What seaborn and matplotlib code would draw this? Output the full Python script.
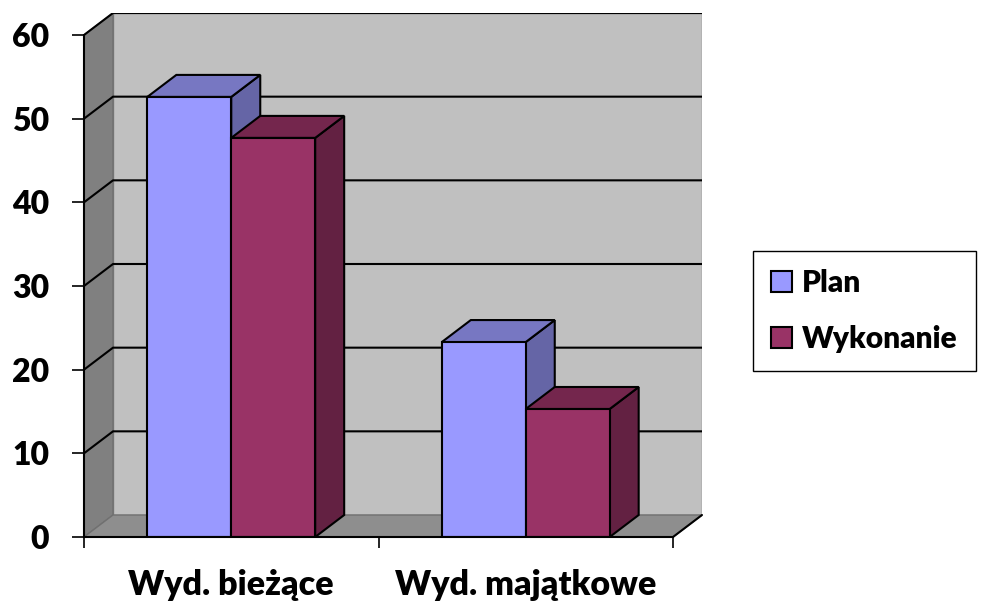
import numpy as np
import pandas as pd
import matplotlib
matplotlib.use('Agg')
import matplotlib.pyplot as plt
from matplotlib.patches import Polygon
import seaborn as sns

# dane
kategorie = ['Wyd. bieżące', 'Wyd. majątkowe']
plan = [52.6, 23.3]
wykonanie = [47.7, 15.3]
serie = ['Plan', 'Wykonanie']
y_ticks = [0, 10, 20, 30, 40, 50, 60]

df = pd.DataFrame({
    'kategoria': kategorie * 2,
    'seria': ['Plan'] * 2 + ['Wykonanie'] * 2,
    'wartosc': plan + wykonanie,
})

sns.set_style('white')
plt.rcParams['font.family'] = ['Lato', 'DejaVu Sans']
plt.rcParams['font.weight'] = 'heavy'
plt.rcParams['text.color'] = 'black'
plt.rcParams['xtick.labelcolor'] = 'black'
plt.rcParams['ytick.labelcolor'] = 'black'

kolory = {'Plan': '#9999FF', 'Wykonanie': '#993366'}
kolory_gora = {'Plan': '#7777C2', 'Wykonanie': '#74264D'}
kolory_bok = {'Plan': '#6565A6', 'Wykonanie': '#632142'}

fig = plt.figure(figsize=(9.84, 6.03), dpi=100)
ax = fig.add_axes([84 / 984, 66 / 603, 618 / 984, 524 / 603])

sns.barplot(data=df, x='kategoria', y='wartosc', hue='seria', palette=kolory,
            saturation=1, width=0.57, gap=0, edgecolor='black', linewidth=1.5, ax=ax,
            zorder=5)

# słupki z kontenerów (po seriach)
slupki = []
for seria, kont in zip(serie, ax.containers):
    for p in kont.patches:
        slupki.append((p, seria))
slupki.sort(key=lambda t: t[0].get_x())

# przesunięcie głębi (3D)
dx = 29 / 294.5
dy = 22 / (502 / 60)
ymax = y_ticks[-1]
x0, x1 = -0.5, 1.5

ax.set_xlim(x0, x1 + dx)
ax.set_ylim(0, ymax + dy)

# ściany i podłoga
ax.add_patch(Polygon([(x0 + dx, dy), (x1 + dx, dy), (x1 + dx, ymax + dy), (x0 + dx, ymax + dy)],
                     closed=True, facecolor='#C0C0C0', edgecolor='#808080', lw=1, zorder=1))
ax.add_patch(Polygon([(x0, 0), (x0, ymax), (x0 + dx, ymax + dy), (x0 + dx, dy)],
                     closed=True, facecolor='#808080', edgecolor='#707070', lw=1, zorder=1))
ax.add_patch(Polygon([(x0, 0), (x1, 0), (x1 + dx, dy), (x0 + dx, dy)],
                     closed=True, facecolor='#8E8E8E', edgecolor='#707070', lw=1, zorder=1.5))
ax.plot([x1, x1 + dx], [0, dy], color='black', lw=1.5, zorder=2, clip_on=False)

# linie siatki
for t in y_ticks[1:]:
    ax.plot([x0, x0 + dx, x1 + dx], [t, t + dy, t + dy], color='black', lw=1.5, zorder=2)

# boki i wierzchy słupków
for i, (p, seria) in enumerate(slupki):
    bx0, bx1, h = p.get_x(), p.get_x() + p.get_width(), p.get_height()
    z = 3 + i * 0.1
    ax.add_patch(Polygon([(bx1, 0), (bx1, h), (bx1 + dx, h + dy), (bx1 + dx, dy)], closed=True,
                         facecolor=kolory_bok[seria], edgecolor='black', lw=1.5, zorder=z))
    ax.add_patch(Polygon([(bx0, h), (bx1, h), (bx1 + dx, h + dy), (bx0 + dx, h + dy)], closed=True,
                         facecolor=kolory_gora[seria], edgecolor='black', lw=1.5, zorder=z))
    p.set_zorder(z + 0.05)

# osie
for s in ['top', 'right']:
    ax.spines[s].set_visible(False)
ax.spines['left'].set_bounds(0, ymax)
ax.spines['bottom'].set_bounds(x0, x1)
for s in ['left', 'bottom']:
    ax.spines[s].set_linewidth(1.5)
    ax.spines[s].set_color('black')
    ax.spines[s].set_zorder(6)

ax.set_yticks(y_ticks)
ax.set_yticklabels([str(t) for t in y_ticks], fontsize=23, fontweight='heavy', color='black')
ax.tick_params(axis='y', length=9, width=1.2, color='black', pad=16, left=True)
ax.set_xticks([0, 1])
ax.set_xticklabels(kategorie, fontsize=24.5, fontweight='heavy', color='black')
ax.set_xticks([x0, 0.5, x1], minor=True)
ax.tick_params(axis='x', which='major', length=0, pad=23)
ax.tick_params(axis='x', which='minor', length=8, width=1.2, color='black', bottom=True)
ax.set_xlabel('')
ax.set_ylabel('')

# legenda
uchwyty, etykiety = ax.get_legend_handles_labels()
ax.get_legend().remove()
leg = fig.legend(uchwyty, etykiety, loc='upper left', bbox_to_anchor=(753 / 984, 1 - 251 / 603),
                 prop={'size': 21.5, 'weight': 'heavy'}, handlelength=0.7, handleheight=0.7,
                 handletextpad=0.35, labelspacing=0.95, borderpad=0.6, borderaxespad=0,
                 fancybox=False, edgecolor='black', framealpha=1, labelcolor='black')
leg.get_frame().set_linewidth(1)

plt.savefig('out.png', dpi=100)
